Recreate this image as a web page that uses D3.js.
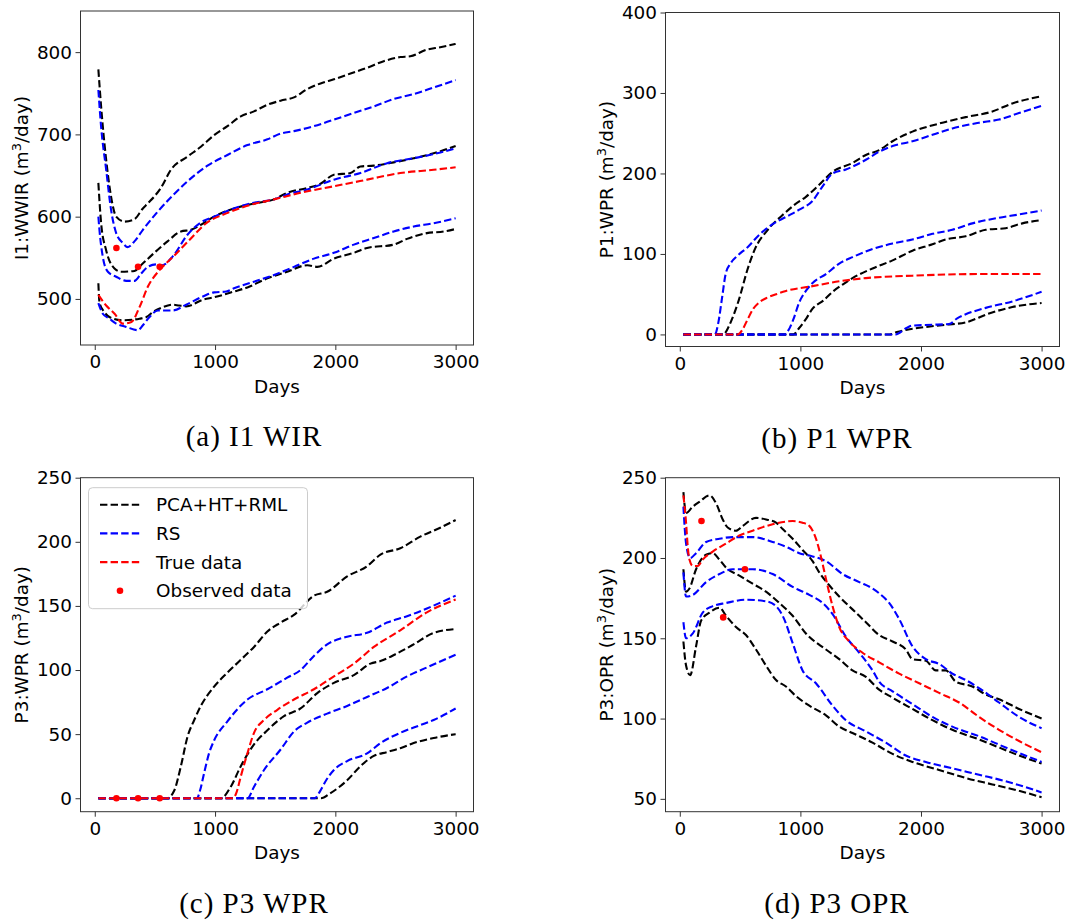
<!DOCTYPE html>
<html>
<head>
<meta charset="utf-8">
<script src="https://cdn.jsdelivr.net/npm/d3@7"></script>
<style>
  body { margin: 0; background: #fff; }
  svg { display: block; }
</style>
</head>
<body>
<svg id="fig" width="1090" height="921"></svg>
<script>
// ---- series: [day, rate] pairs ----
// (a) I1 water injection rate
const wirPcaUpper = [[30,779],[55,730],[95,669],[136,624],[178,600],[247,594],[330,597],[400,610],[440,616],[550,635],[633,657],[771,673],[882,685],[992,699],[1103,710],[1214,722],[1324,728],[1435,736],[1545,741],[1656,745],[1767,755],[1877,762],[1988,767],[2126,774],[2264,781],[2402,789],[2540,794],[2623,795],[2761,803],[2872,806],[3000,810]];
const wirPcaMid = [[30,641],[53,592],[95,559],[164,537],[220,533],[330,534],[384,541],[495,556],[605,570],[716,582],[800,584],[882,590],[992,600],[1158,610],[1324,616],[1490,621],[1600,629],[1767,635],[1877,640],[1988,651],[2126,653],[2209,661],[2320,662],[2485,666],[2651,671],[2817,677],[3000,686]];
const wirPcaLower = [[30,519],[40,495],[80,484],[122,478],[233,474],[372,476],[430,478],[483,484],[566,490],[650,493],[700,492],[760,491],[900,499],[992,502],[1158,509],[1269,514],[1435,525],[1600,533],[1767,541],[1850,539],[1988,549],[2154,556],[2264,562],[2485,566],[2596,573],[2761,580],[2900,582],[3000,585]];
const wirRsUpper = [[30,754],[53,709],[95,657],[136,608],[178,580],[233,568],[275,563],[330,570],[400,584],[511,604],[650,626],[771,643],[937,662],[1103,675],[1269,687],[1435,694],[1545,701],[1656,704],[1822,710],[1988,718],[2154,726],[2320,734],[2485,743],[2651,749],[2817,757],[3000,766]];
const wirRsMid = [[30,600],[39,584],[67,551],[109,533],[178,527],[261,522],[330,522],[386,531],[442,539],[511,542],[560,541],[650,552],[771,578],[882,593],[992,600],[1158,610],[1324,617],[1490,621],[1600,627],[1767,633],[1988,645],[2209,653],[2430,665],[2651,671],[2817,676],[3000,683]];
const wirRsLower = [[30,495],[67,482],[122,476],[178,470],[261,466],[358,462],[400,468],[455,478],[525,486],[650,486],[760,493],[899,503],[992,508],[1093,509],[1158,513],[1324,521],[1490,529],[1656,539],[1822,549],[1988,556],[2154,566],[2320,574],[2485,582],[2651,588],[2817,592],[3000,598]];
const wirTrue = [[30,505],[95,492],[165,482],[233,470],[305,472],[372,490],[442,515],[538,535],[650,551],[789,572],[927,592],[1093,604],[1287,614],[1490,621],[1711,629],[1988,637],[2264,645],[2540,653],[2817,657],[3000,660]];
const wirObserved = [[180,562],[360,539],[540,539]];

// (b) P1 water production rate
const p1PcaUpper = [[30,0],[360,0],[400,8],[430,18],[490,43],[560,80],[620,105],[730,130],[850,148],[950,161],[1046,171],[1156,186],[1267,202],[1432,213],[1543,223],[1653,229],[1764,240],[1929,252],[2150,262],[2371,270],[2592,277],[2757,287],[3000,296]];
const p1PcaMid = [[30,0],[940,0],[990,8],[1050,20],[1101,32],[1190,42],[1267,53],[1350,62],[1432,70],[1598,82],[1764,92],[1929,104],[2095,112],[2205,118],[2371,122],[2537,130],[2702,132],[2840,138],[3000,142]];
const p1PcaLower = [[30,0],[1740,0],[1800,3],[1929,7],[2205,12],[2371,15],[2564,26],[2757,34],[3000,39]];
const p1RsUpper = [[30,0],[290,0],[320,15],[350,45],[380,75],[420,88],[480,98],[560,108],[660,124],[770,137],[881,146],[991,155],[1101,166],[1184,184],[1267,200],[1377,205],[1543,217],[1653,227],[1764,234],[1929,240],[2095,248],[2260,256],[2481,263],[2647,267],[2812,275],[3000,284]];
const p1RsMid = [[30,0],[870,0],[900,5],[940,18],[991,40],[1050,55],[1101,64],[1212,75],[1322,88],[1432,96],[1598,106],[1764,113],[1929,118],[2095,125],[2260,130],[2426,138],[2647,145],[2812,149],[3000,154]];
const p1RsLower = [[30,0],[1790,0],[1880,8],[1929,11],[2095,12],[2233,13],[2300,20],[2371,25],[2537,33],[2757,41],[3000,53]];
const p1True = [[30,0],[480,0],[520,6],[560,18],[610,32],[660,40],[715,45],[800,50],[880,54],[1101,60],[1322,66],[1543,70],[1929,73],[2481,75],[3000,75]];

// (c) P3 water production rate
const p3wprPcaUpper = [[30,0],[600,0],[661,6],[716,25],[771,48],[827,61],[882,72],[992,87],[1103,98],[1214,108],[1324,118],[1435,130],[1545,137],[1656,143],[1822,158],[1932,161],[2098,173],[2264,181],[2375,190],[2540,195],[2706,204],[2872,211],[3000,217]];
const p3wprPcaMid = [[30,0],[1050,0],[1131,9],[1214,25],[1324,42],[1435,53],[1573,64],[1711,70],[1850,82],[1988,90],[2154,96],[2292,105],[2375,107],[2513,113],[2651,120],[2817,129],[3000,132]];
const p3wprPcaLower = [[30,0],[1880,0],[1960,4],[2098,14],[2209,25],[2320,33],[2430,36],[2540,39],[2651,43],[2817,47],[3000,50]];
const p3wprRsUpper = [[30,0],[850,0],[875,6],[910,20],[950,35],[992,45],[1103,60],[1269,77],[1435,85],[1600,94],[1711,100],[1822,111],[1932,120],[2098,126],[2264,129],[2430,137],[2596,142],[2761,148],[3000,158]];
const p3wprRsMid = [[30,0],[1270,0],[1324,9],[1407,22],[1545,38],[1656,52],[1767,59],[1932,66],[2098,72],[2264,79],[2430,86],[2596,95],[2761,102],[3000,112]];
const p3wprRsLower = [[30,0],[1830,0],[1870,5],[1930,15],[1988,22],[2098,29],[2264,35],[2375,43],[2540,51],[2706,57],[2817,61],[3000,70]];
const p3wprTrue = [[30,0],[1150,0],[1180,5],[1214,17],[1269,35],[1324,51],[1407,61],[1518,69],[1656,77],[1822,85],[1988,95],[2154,105],[2320,118],[2540,131],[2761,145],[3000,155]];
const p3wprObserved = [[180,0],[360,0],[540,0]];

// (d) P3 oil production rate
const p3oprPcaUpper = [[30,241],[52,228],[108,232],[163,235],[246,239],[301,234],[356,224],[397,219],[466,217],[522,220],[632,225],[715,224],[798,222],[853,218],[936,212],[1018,205],[1101,198],[1156,191],[1239,183],[1322,176],[1432,168],[1543,160],[1653,152],[1764,148],[1874,143],[1929,137],[2040,136],[2122,130],[2205,130],[2288,123],[2426,120],[2537,115],[2647,112],[2813,106],[3000,100]];
const p3oprPcaMid = [[30,193],[52,179],[80,181],[135,193],[218,202],[273,203],[329,199],[384,194],[494,189],[604,184],[715,179],[825,172],[936,164],[1046,153],[1212,143],[1322,137],[1432,130],[1543,126],[1653,118],[1764,113],[1929,106],[2095,99],[2260,93],[2481,87],[2647,82],[2813,77],[3000,72]];
const p3oprPcaLower = [[30,148],[52,133],[86,127],[135,145],[177,161],[246,166],[329,169],[384,164],[466,157],[549,152],[632,143],[715,133],[798,124],[880,120],[963,114],[1074,108],[1212,102],[1322,95],[1432,91],[1598,85],[1764,78],[1929,73],[2150,68],[2371,63],[2592,59],[2813,55],[3000,51]];
const p3oprRsUpper = [[30,232],[52,209],[86,200],[135,203],[218,210],[329,212],[439,213],[604,213],[770,210],[880,207],[991,203],[1101,201],[1212,198],[1350,190],[1488,185],[1598,181],[1653,178],[1736,172],[1819,162],[1929,145],[2040,137],[2150,134],[2260,128],[2371,124],[2481,119],[2647,110],[2813,101],[3000,94]];
const p3oprRsMid = [[30,191],[52,176],[108,177],[218,185],[329,190],[439,193],[604,193],[770,190],[936,182],[1074,177],[1184,172],[1267,165],[1377,151],[1488,141],[1598,130],[1653,123],[1764,117],[1929,109],[2095,101],[2260,95],[2481,89],[2702,82],[3000,73]];
const p3oprRsLower = [[30,160],[52,150],[108,153],[190,166],[273,170],[384,172],[549,174],[715,173],[798,170],[853,164],[936,147],[1018,130],[1129,122],[1267,108],[1377,99],[1543,92],[1709,85],[1874,77],[2040,73],[2260,69],[2481,65],[2702,61],[3000,54]];
const p3oprTrue = [[30,239],[52,222],[66,207],[80,199],[108,195],[149,195],[190,199],[273,204],[384,209],[494,214],[604,217],[770,221],[936,223],[1018,222],[1074,220],[1129,212],[1170,201],[1212,187],[1267,170],[1322,157],[1405,148],[1515,141],[1653,135],[1819,128],[1985,122],[2150,116],[2316,110],[2482,101],[2647,93],[2813,86],[3000,79]];
const p3oprObserved = [[180,223],[360,163],[540,193]];

// ---- axes ticks and labels ----
const dayTicks = [0, 1000, 2000, 3000];
const wirTicks = [500, 600, 700, 800];
const p1Ticks = [0, 100, 200, 300, 400];
const p3wprTicks = [0, 50, 100, 150, 200, 250];
const p3oprTicks = [50, 100, 150, 200, 250];
const legendLabels = ["PCA+HT+RML", "RS", "True data", "Observed data"];

const COLORS = { pca: "#000000", rs: "#0000ff", truth: "#ff0000" };
const DASH = "7.4,3.2";
const SANS = "'DejaVu Sans', sans-serif";
const SERIF = "'Liberation Serif', 'Times New Roman', serif";
const FONT_PX = "18.4px";

const panels = [
  { left: 80.5, right: 473.5, top: 11, bottom: 345, yDomain: [444, 850], yTicks: wirTicks,
    yName: "I1:WWIR", caption: "(a) I1 WIR", capX: 254,
    pca: [wirPcaUpper, wirPcaMid, wirPcaLower], rs: [wirRsUpper, wirRsMid, wirRsLower],
    truth: wirTrue, observed: wirObserved },
  { left: 665.5, right: 1059.5, top: 12.5, bottom: 346.5, yDomain: [-15, 400], yTicks: p1Ticks,
    yName: "P1:WPR", caption: "(b) P1 WPR", capX: 837,
    pca: [p1PcaUpper, p1PcaMid, p1PcaLower], rs: [p1RsUpper, p1RsMid, p1RsLower],
    truth: p1True, observed: [] },
  { left: 80.5, right: 473.5, top: 477.7, bottom: 811.7, yDomain: [-10.5, 250], yTicks: p3wprTicks,
    yName: "P3:WPR", caption: "(c) P3 WPR", capX: 254, legend: true,
    pca: [p3wprPcaUpper, p3wprPcaMid, p3wprPcaLower], rs: [p3wprRsUpper, p3wprRsMid, p3wprRsLower],
    truth: p3wprTrue, observed: p3wprObserved },
  { left: 665.5, right: 1059.5, top: 477.7, bottom: 811.7, yDomain: [42, 250], yTicks: p3oprTicks,
    yName: "P3:OPR", caption: "(d) P3 OPR", capX: 837,
    pca: [p3oprPcaUpper, p3oprPcaMid, p3oprPcaLower], rs: [p3oprRsUpper, p3oprRsMid, p3oprRsLower],
    truth: p3oprTrue, observed: p3oprObserved }
];

const svg = d3.select("#fig");

function drawPanel(p) {
  const x = d3.scaleLinear().domain([-118.5, 3148.5]).range([p.left, p.right]);
  const y = d3.scaleLinear().domain(p.yDomain).range([p.bottom, p.top]);
  const g = svg.append("g");

  const line = d3.line()
    .x(d => x(d[0]))
    .y(d => y(d[1]))
    .curve(d3.curveMonotoneX);

  const drawSeries = (data, color) => {
    g.append("path")
      .attr("d", line(data))
      .attr("fill", "none")
      .attr("stroke", color)
      .attr("stroke-width", 2.1)
      .attr("stroke-dasharray", DASH);
  };

  p.pca.forEach(s => drawSeries(s, COLORS.pca));
  p.rs.forEach(s => drawSeries(s, COLORS.rs));
  drawSeries(p.truth, COLORS.truth);

  g.selectAll("circle.obs").data(p.observed).join("circle")
    .attr("class", "obs")
    .attr("cx", d => x(d[0]))
    .attr("cy", d => y(d[1]))
    .attr("r", 3.3)
    .attr("fill", COLORS.truth);

  // frame
  g.append("rect")
    .attr("x", p.left).attr("y", p.top)
    .attr("width", p.right - p.left).attr("height", p.bottom - p.top)
    .attr("fill", "none").attr("stroke", "#333").attr("stroke-width", 1);

  const xAxis = g.append("g")
    .attr("transform", `translate(0,${p.bottom})`)
    .call(d3.axisBottom(x).tickValues(dayTicks).tickSize(5).tickPadding(5).tickFormat(d3.format("d")));
  const yAxis = g.append("g")
    .attr("transform", `translate(${p.left},0)`)
    .call(d3.axisLeft(y).tickValues(p.yTicks).tickSize(5).tickPadding(3.5).tickFormat(d3.format("d")));
  [xAxis, yAxis].forEach(a => {
    a.select(".domain").remove();
    a.selectAll(".tick line").attr("stroke", "#333");
    a.selectAll(".tick text").attr("fill", "#000").style("font-family", SANS).style("font-size", FONT_PX);
  });

  // x label
  g.append("text")
    .attr("x", (p.left + p.right) / 2)
    .attr("y", p.bottom + 47.5)
    .attr("text-anchor", "middle")
    .style("font-family", SANS).style("font-size", FONT_PX)
    .text("Days");

  // y label with superscript
  const yl = g.append("text")
    .attr("transform", `translate(${p.left - 52.5},${(p.top + p.bottom) / 2}) rotate(-90)`)
    .attr("text-anchor", "middle")
    .style("font-family", SANS).style("font-size", FONT_PX);
  yl.append("tspan").text(p.yName + " (m");
  yl.append("tspan").attr("dy", -7).style("font-size", "12.9px").text("3");
  yl.append("tspan").attr("dy", 7).text("/day)");

  // caption
  g.append("text")
    .attr("x", p.capX)
    .attr("y", p.bottom + 101)
    .attr("text-anchor", "middle")
    .style("font-family", SERIF).style("font-size", "29px")
    .style("letter-spacing", "1px")
    .text(p.caption);

  if (p.legend) drawLegend(g, p);
}

function drawLegend(g, p) {
  const lx = p.left + 8, ly = p.top + 10;
  const lg = g.append("g");
  lg.append("rect")
    .attr("x", lx).attr("y", ly)
    .attr("width", 219).attr("height", 121)
    .attr("rx", 4).attr("ry", 4)
    .attr("fill", "#fff").attr("fill-opacity", 0.8)
    .attr("stroke", "#cccccc").attr("stroke-width", 1);
  const colors = [COLORS.pca, COLORS.rs, COLORS.truth, COLORS.truth];
  legendLabels.forEach((label, i) => {
    const cy = ly + 17 + i * 28.7;
    if (i < 3) {
      lg.append("line")
        .attr("x1", lx + 11.5).attr("x2", lx + 51.5)
        .attr("y1", cy).attr("y2", cy)
        .attr("stroke", colors[i]).attr("stroke-width", 2.1)
        .attr("stroke-dasharray", DASH);
    } else {
      lg.append("circle")
        .attr("cx", lx + 31.5).attr("cy", cy).attr("r", 3.3)
        .attr("fill", colors[i]);
    }
    lg.append("text")
      .attr("x", lx + 67.5).attr("y", cy)
      .attr("dy", "0.36em")
      .style("font-family", SANS).style("font-size", FONT_PX)
      .text(label);
  });
}

panels.forEach(drawPanel);
</script>
</body>
</html>
